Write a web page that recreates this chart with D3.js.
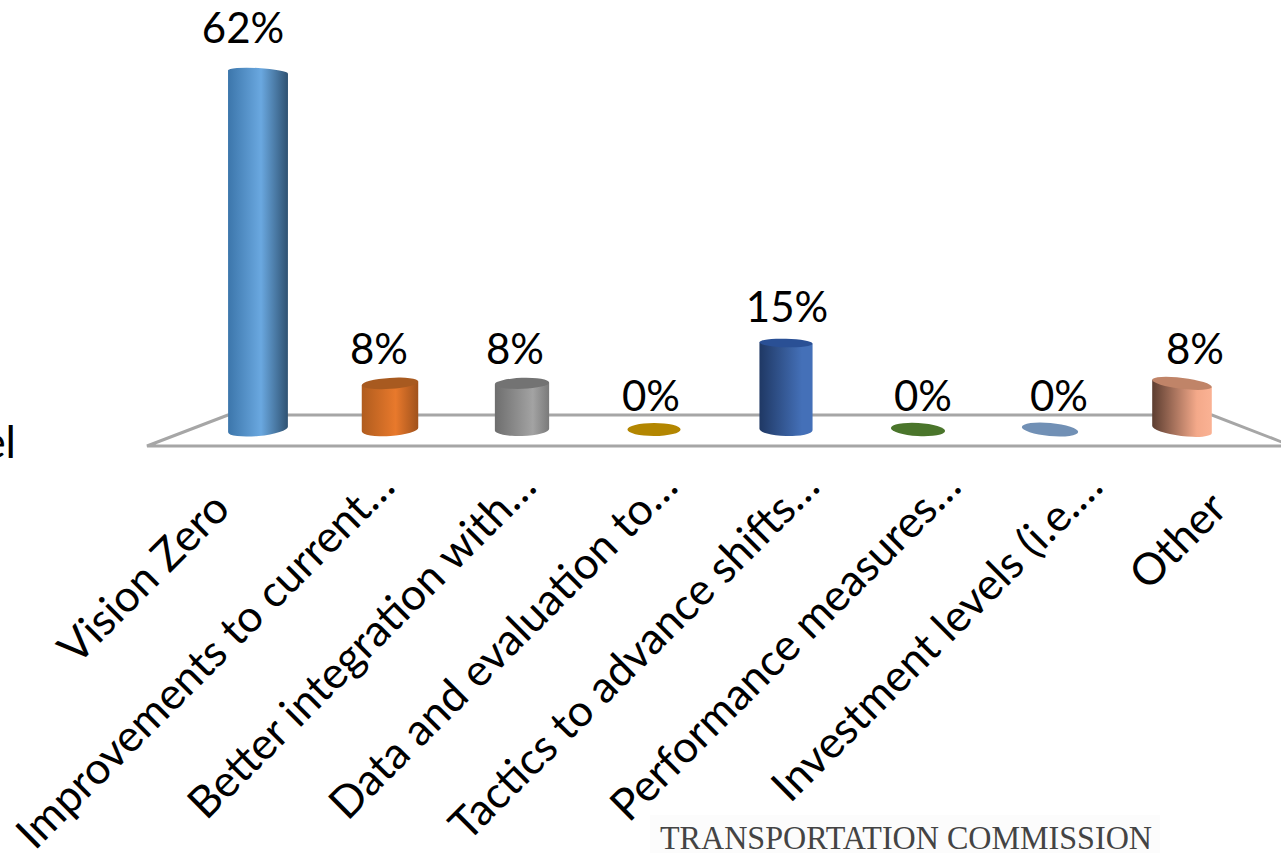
<!DOCTYPE html>
<html><head><meta charset="utf-8">
<script src="https://cdn.jsdelivr.net/npm/d3@7/dist/d3.min.js"></script>
<style>html,body{margin:0;padding:0;background:#fff;overflow:hidden}svg{display:block}</style>
</head><body><svg id="c" width="1281" height="853"></svg>
<script>
const categories = ["Vision Zero","Improvements to current…","Better integration with…","Data and evaluation to…","Tactics to advance shifts…","Performance measures…","Investment levels (i.e.…","Other"];
const values = [62,8,8,0,15,0,0,8];
const bodyDark1 = ["#3c76ab","#b05c1e","#6e6e6e","#8a6a00","#1f3864","#3a5c22","#5a7a9f","#5c3d30"];
const bodyMid = ["#6aa8e0","#e8792c","#a3a3a3","#b38600","#4470b8","#4a752b","#7190b5","#f4a98a"];
const bodyDark2 = ["#2f5272","#a0521c","#7a7a7a","#8a6a00","#4470b8","#3a5c22","#7190b5","#fab294"];
const midStops = [0.55,0.6,0.7,0.5,0.8,0.5,0.5,0.75];
const capFill = ["#5d9bd5","#a85a20","#737373","#b38600","#2a5095","#4a752b","#7190b5","#c08468"];

const svg = d3.select("#c");
const font = "Lato, 'Open Sans', sans-serif";
const x = d3.scalePoint().domain(d3.range(8)).range([258,1182]);
const xLabel = d3.scalePoint().domain(d3.range(8)).range([243,1195]);
const xCatLong = d3.scaleLinear().domain([1,6]).range([397,1105]);
const xCatFull = d3.scaleLinear().domain([0,7]).range([232,1229]);
const y = d3.scaleLinear().domain([0,62]).range([429.5,72]);
const capRy = d3.scaleLinear().domain([0,8,62]).range([6.5,5.5,-4]);
const width = i => 53 + 3.3e-5*Math.pow(x(i)-720,2);
const tilt = i => (x(i)-665)*0.0135;

// Floor
svg.append("path").attr("d","M228,415L147,446H1292L1212,415Z")
  .attr("fill","#fff").attr("stroke","#a6a6a6").attr("stroke-width",3);

const defs = svg.append("defs");
values.forEach((v,i)=>{
  const g = defs.append("linearGradient").attr("id","g"+i);
  g.append("stop").attr("offset",0).attr("stop-color",bodyDark1[i]);
  g.append("stop").attr("offset",midStops[i]).attr("stop-color",bodyMid[i]);
  g.append("stop").attr("offset",1).attr("stop-color",bodyDark2[i]);
});

function ends(cx,cy,rx,deg){
  const t = deg*Math.PI/180;
  return {lx:cx-rx*Math.cos(t), ly:cy-rx*Math.sin(t), rx_:cx+rx*Math.cos(t), ry_:cy+rx*Math.sin(t)};
}
const bars = svg.selectAll("g.bar").data(values).join("g").attr("class","bar");
bars.each(function(v,i){
  const g = d3.select(this), cx = x(i), rx = width(i)/2, deg = tilt(i);
  const b = ends(cx,y(0),rx,deg);
  if (v===0){
    g.append("ellipse").attr("cx",cx).attr("cy",y(0)).attr("rx",rx).attr("ry",6.5)
      .attr("transform",`rotate(${deg} ${cx} ${y(0)})`).attr("fill",capFill[i]);
    return;
  }
  const ry = capRy(v), topDeg = ry<0 ? -deg*0.6 : deg;
  const t = ends(cx,y(v),rx,topDeg), ary = Math.abs(ry);
  const topArc = `A${rx},${ary} ${topDeg} 0 1 ${t.rx_},${t.ry_}`;
  g.append("path").attr("fill",`url(#g${i})`)
    .attr("d",`M${t.lx},${t.ly}${ry<0?topArc:`L${t.rx_},${t.ry_}`}L${b.rx_},${b.ry_}A${rx},6.5 ${deg} 0 1 ${b.lx},${b.ly}Z`);
  if (ry>0) g.append("ellipse").attr("cx",cx).attr("cy",y(v)).attr("rx",rx).attr("ry",ry)
      .attr("transform",`rotate(${deg} ${cx} ${y(v)})`).attr("fill",capFill[i]);
});

// Data labels
svg.selectAll("text.val").data(values).join("text").attr("class","val")
  .attr("x",(d,i)=>xLabel(i)).attr("y",d=>y(d)-(18.5+0.17*d))
  .attr("text-anchor","middle").attr("font-family",font).attr("font-size",42).attr("fill","#000")
  .text(d=>d+"%");

// Category labels
svg.selectAll("text.cat").data(categories).join("text").attr("class","cat")
  .attr("text-anchor","end").attr("font-family",font).attr("font-size",44).attr("fill","#000")
  .attr("transform",(d,i)=>{
    const truncated = d.endsWith("…");
    return `translate(${truncated?xCatLong(i):xCatFull(i)},${truncated?489:511}) rotate(-45)`;
  })
  .text(d=>d);

// Clipped fragment at left edge
svg.append("text").attr("x",16).attr("y",458).attr("text-anchor","end")
  .attr("font-family",font).attr("font-size",44).attr("fill","#000").text("el");

// Footer
svg.append("rect").attr("x",650).attr("y",815).attr("width",510).attr("height",38).attr("fill","#fcfcfc");
svg.append("text").attr("x",906).attr("y",849).attr("text-anchor","middle")
  .attr("font-family","'Liberation Serif',serif").attr("font-size",33).attr("fill","#444")
  .attr("textLength",492).attr("lengthAdjust","spacingAndGlyphs").text("TRANSPORTATION COMMISSION");
</script></body></html>
